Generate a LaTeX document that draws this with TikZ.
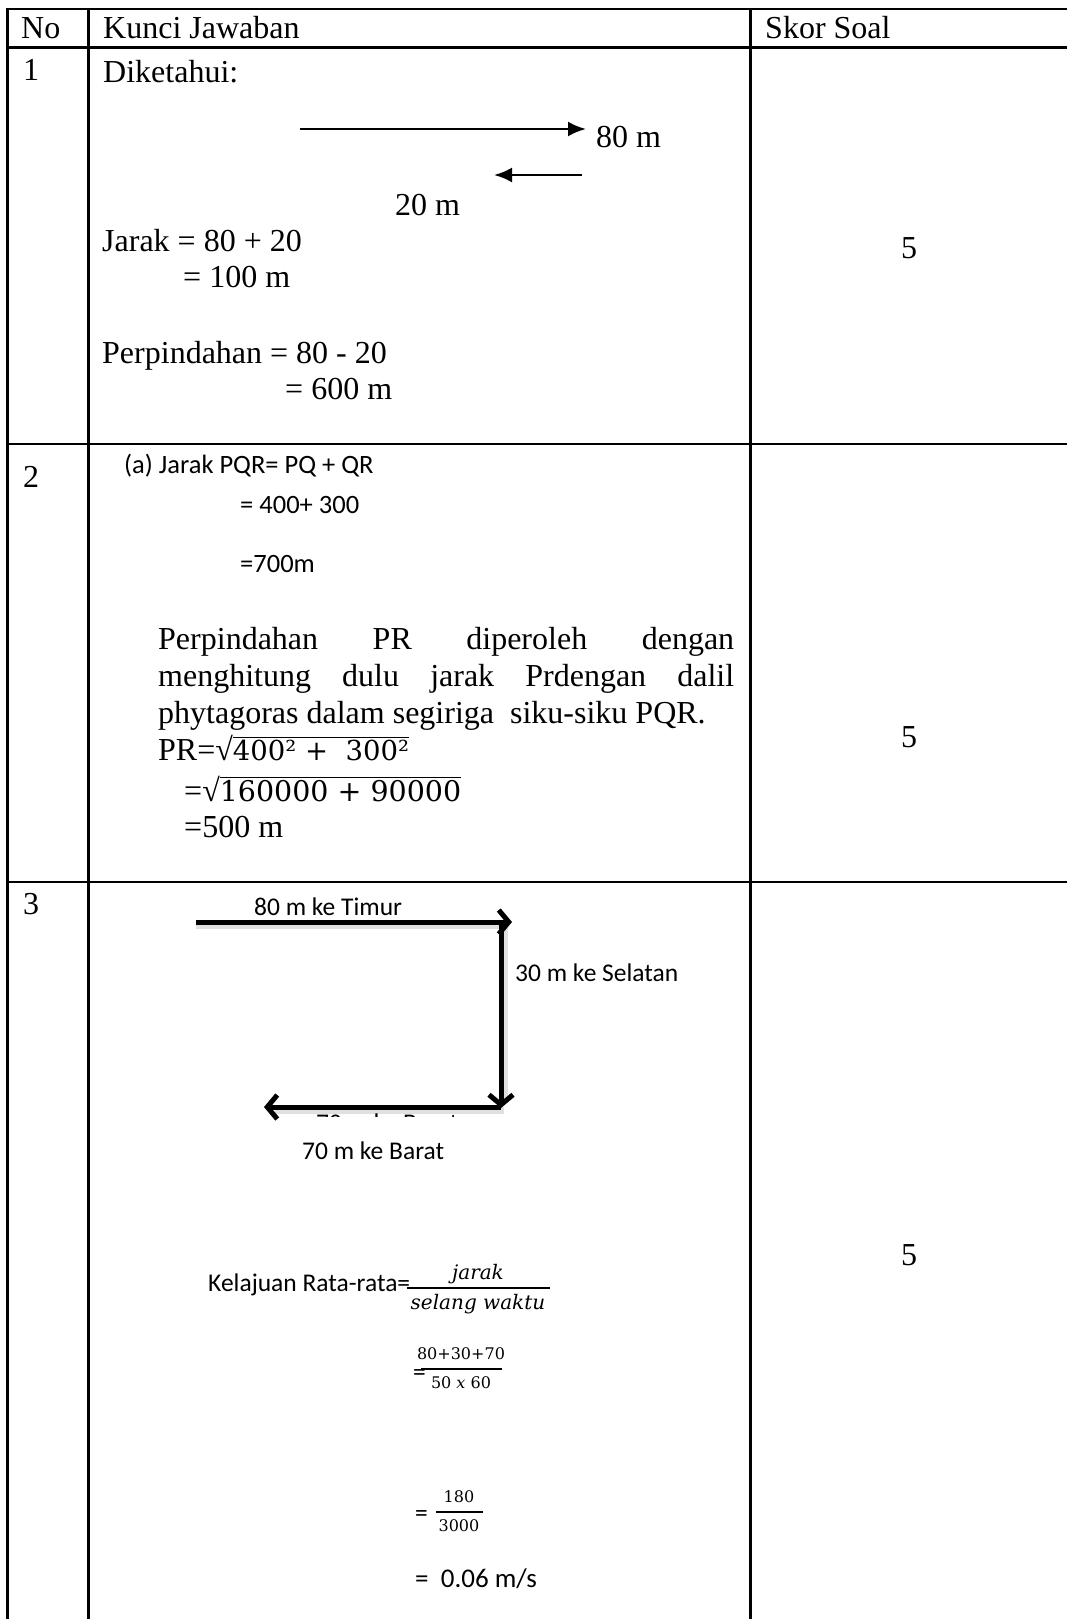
\documentclass[tikz,border=0pt]{standalone}
\usepackage{fontspec}
\setmainfont{Liberation Serif}
\newfontfamily\calfont{Carlito}
\newfontfamily\camfont{DejaVu Serif}
\usetikzlibrary{arrows.meta}
\newcommand{\myoverline}[2]{\vbox{\hrule height 1.6pt\kern 0.8pt\hbox{\vrule height #1 depth 0pt width 0pt\smash{#2}}}}
\begin{document}
\begin{tikzpicture}[x=1pt,y=-1pt,
  grid/.style={line width=2.5pt,black},
  tnr/.style={anchor=base west,inner sep=0pt,font=\fontsize{32}{37}\selectfont},
  cal/.style={anchor=base west,inner sep=0pt,font=\calfont\fontsize{26.5}{30}\selectfont},
  calpic/.style={anchor=base west,inner sep=0pt,font=\calfont\fontsize{25.5}{30}\selectfont},
  mthbig/.style={anchor=base,inner sep=0pt,font=\camfont\itshape\fontsize{20}{22}\selectfont},
  mth/.style={anchor=base,inner sep=0pt,font=\camfont\fontsize{16}{18}\selectfont},
  score/.style={anchor=base,inner sep=0pt,font=\fontsize{32}{37}\selectfont},
  thinarrow/.style={line width=2.6pt,-{Latex[length=18pt,width=15pt]}},
  thickarrow/.style={line width=5pt,-{Straight Barb[length=10pt,width=24pt]}},
  shadowline/.style={line width=7pt,black!12},
  fracbar/.style={line width=1.5pt}]
\useasboundingbox (0,0) rectangle (1067,1619);
\fill[white] (0,0) rectangle (1067,1619);

% ---- table grid ----
\draw[grid] (7,9) -- (1067,9);
\draw[grid] (7,47.5) -- (1067,47.5);
\draw[grid] (7,444) -- (1067,444);
\draw[grid] (7,882) -- (196,882);
\draw[grid] (692,882) -- (1067,882);
\draw[line width=1.1pt] (196,882) -- (692,882);
\draw[grid] (7.5,8) -- (7.5,1619);
\draw[grid] (88.5,8) -- (88.5,1619);
\draw[grid] (750.5,8) -- (750.5,1619);

% ---- header ----
\node[tnr] (hno) at (21,39) {No};
\node[tnr] (hkunci) at (103,39) {Kunci Jawaban};
\node[tnr] (hskor) at (765,39) {Skor Soal};

% ---- row 1 ----
\node[tnr] (n1) at (23,81) {1};
\node[tnr] (dik) at (103,82) {Diketahui:};
\coordinate (a1s) at (300,129);
\coordinate (a1e) at (586,129);
\draw[thinarrow] (a1s) -- (a1e);
\node[tnr] (l80) at (596,147) {80 m};
\coordinate (a2s) at (582,175);
\coordinate (a2e) at (494,175);
\draw[thinarrow] (a2s) -- (a2e);
\node[tnr] (l20) at (395,215) {20 m};
\node[tnr] (jr1) at (102,251) {Jarak = 80 + 20};
\node[tnr] (jr2) at (183,287) {= 100 m};
\node[tnr] (pp1) at (102,363) {Perpindahan = 80 - 20};
\node[tnr] (pp2) at (285,399) {= 600 m};
\node[score] (s1) at (909,258) {5};

% ---- row 2 ----
\node[tnr] (n2) at (23,487) {2};
\node[cal] (ja) at (124,473) {(a) Jarak PQR= PQ + QR};
\node[cal] (jb) at (240,513) {= 400+ 300};
\node[cal] (jc) at (240,572) {=700m};
\node[tnr] (p1) at (158,649) {\makebox[576pt][s]{Perpindahan PR diperoleh dengan}};
\node[tnr] (p2) at (158,686) {\makebox[576pt][s]{menghitung dulu jarak Prdengan dalil}};
\node[tnr] (p3) at (158,723) {phytagoras dalam segiriga\ \ siku-siku PQR.};
\node[tnr] (pr1) at (158,760) {PR=√\myoverline{21pt}{\camfont\fontsize{27.5}{32}\selectfont 400² +\ \ 300²}};
\node[tnr] (pr2) at (184,801) {=√\myoverline{22pt}{\camfont\fontsize{28.5}{32}\selectfont 160000 + 90000}};
\node[tnr] (pr3) at (184,837) {=500 m};
\node[score] (s2) at (909,747) {5};

% ---- row 3 ----
\node[tnr] (n3) at (23,914) {3};
% soft shadows of the picture's arrows
\draw[shadowline] (196,925) -- (508,925);
\draw[shadowline] (504,925) -- (504,1102);
\draw[shadowline] (504,1110) -- (275,1110);
\coordinate (b1s) at (196,922);
\coordinate (b1e) at (512,922);
\coordinate (b2s) at (501,922);
\coordinate (b2e) at (501,1108);
\coordinate (b3s) at (501,1107);
\coordinate (b3e) at (264,1107);
\draw[thickarrow] (b1s) -- (b1e);
\draw[thickarrow] (b2s) -- (b2e);
\draw[thickarrow] (b3s) -- (b3e);
\node[calpic] (t80) at (254,915) {80 m ke Timur};
\node[calpic] (t30) at (515,981) {30 m ke Selatan};
\begin{scope}
  \clip (196,1112) rectangle (692,1116);
  \node[calpic] (t70cut) at (316,1131) {70 m ke Barat};
\end{scope}
\node[calpic] (t70) at (302,1159) {70 m ke Barat};

\node[calpic] (kel) at (208,1291) {Kelajuan Rata-rata=};
\draw[fracbar] (407,1288) -- (550,1288);
\node[mthbig] (fn1) at (478,1279) {jarak};
\node[mthbig] (fd1) at (478,1309) {selang waktu};

\node[calpic] (eq2) at (413,1380) {=};
\draw[fracbar] (421,1369) -- (502,1369);
\node[mth] (fn2) at (461,1359) {80+30+70};
\node[mth] (fd2) at (461,1388) {50 \textit{x} 60};

\node[calpic] (eq3) at (415,1521) {=};
\draw[fracbar] (436,1512) -- (483,1512);
\node[mth] (fn3) at (459,1502) {180};
\node[mth] (fd3) at (459,1531) {3000};

\node[calpic,font=\calfont\fontsize{27}{30}\selectfont] (res) at (415,1587) {=\ \ 0.06 m/s};
\node[score] (s3) at (909,1265) {5};
\end{tikzpicture}
\end{document}
